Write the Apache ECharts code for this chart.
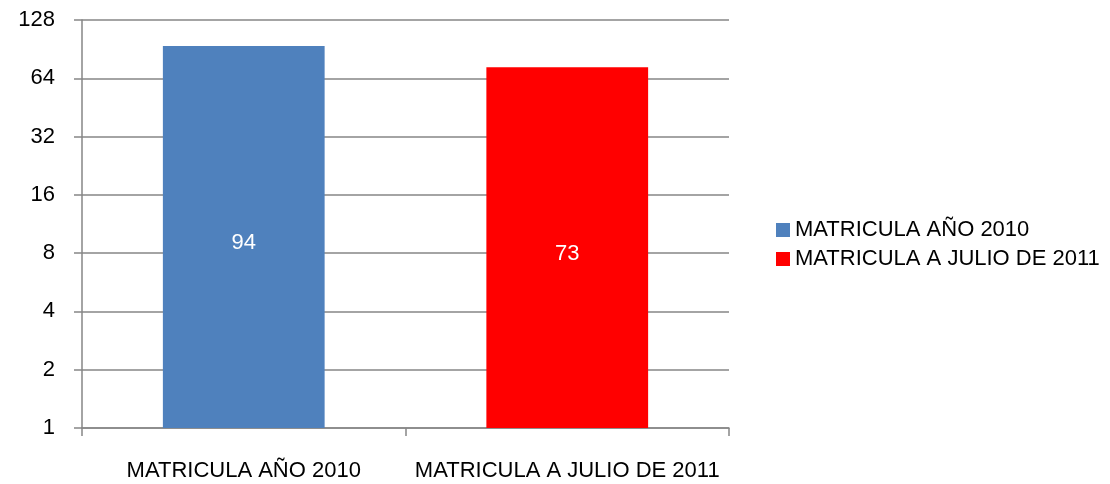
<!DOCTYPE html>
<html>
<head>
<meta charset="utf-8">
<script src="https://cdn.jsdelivr.net/npm/echarts@6/dist/echarts.min.js"></script>
<style>
  html, body { margin: 0; padding: 0; background: #fff; }
  #chart { width: 1110px; height: 484px; }
</style>
</head>
<body>
<div id="chart"></div>
<script>
  var categories = ['MATRICULA AÑO 2010', 'MATRICULA A JULIO DE 2011']
  var seriesNames = ['MATRICULA AÑO 2010', 'MATRICULA A JULIO DE 2011']
  var matricula2010 = [94, '-']
  var matriculaJulio2011 = ['-', 73]
  var yTicks = [1, 2, 4, 8, 16, 32, 64, 128]

  var font = 'Liberation Sans'
  var chart = echarts.init(document.getElementById('chart'))
  chart.setOption({
    animation: false,
    backgroundColor: '#fff',
    textStyle: { fontFamily: font },
    grid: { left: 82, right: 381, top: 20, bottom: 56 },
    legend: {
      orient: 'vertical',
      left: 771,
      top: 214,
      icon: 'rect',
      itemWidth: 14,
      itemHeight: 14,
      itemGap: 7,
      data: seriesNames,
      textStyle: { fontSize: 22, color: '#000', fontFamily: font }
    },
    xAxis: {
      type: 'category',
      data: categories,
      axisLine: { lineStyle: { color: '#868686', width: 1.5 } },
      axisTick: { show: true, length: 8, lineStyle: { color: '#868686', width: 1.5 } },
      axisLabel: { interval: 0, fontSize: 22, color: '#000', margin: 32, fontFamily: font }
    },
    yAxis: {
      type: 'log',
      logBase: 2,
      min: yTicks[0],
      max: yTicks[yTicks.length - 1],
      splitNumber: yTicks.length - 1,
      axisLine: { show: true, lineStyle: { color: '#868686', width: 1.5 } },
      axisTick: { show: true, length: 8, lineStyle: { color: '#868686', width: 1.5 } },
      splitLine: { show: true, lineStyle: { color: '#868686', width: 1.5 } },
      axisLabel: { fontSize: 22, color: '#000', margin: 27, fontFamily: font }
    },
    series: [
      {
        name: seriesNames[0],
        type: 'bar',
        data: matricula2010,
        barWidth: '50%',
        barGap: '-100%',
        itemStyle: { color: '#4F81BD' },
        label: { show: true, position: 'inside', offset: [0, 6], color: '#fff', fontSize: 22, fontFamily: font }
      },
      {
        name: seriesNames[1],
        type: 'bar',
        data: matriculaJulio2011,
        barWidth: '50%',
        barGap: '-100%',
        itemStyle: { color: '#FF0000' },
        label: { show: true, position: 'inside', offset: [0, 6], color: '#fff', fontSize: 22, fontFamily: font }
      }
    ]
  })
</script>
</body>
</html>
